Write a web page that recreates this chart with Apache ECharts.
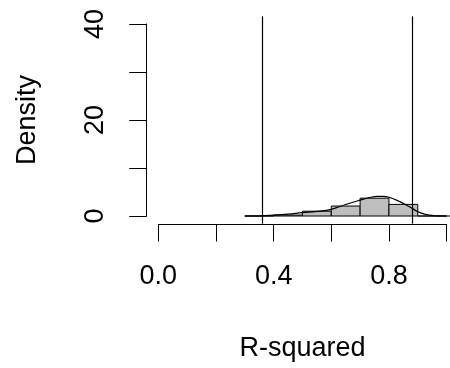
<!DOCTYPE html>
<html>
<head>
<meta charset="utf-8">
<script src="https://cdn.jsdelivr.net/npm/echarts@6/dist/echarts.min.js"></script>
<style>
html,body{margin:0;padding:0;background:#fff;}
#chart{width:450px;height:368px;}
</style>
</head>
<body>
<div id="chart"></div>
<script>
// Histogram bins (R-squared) and densities
const binStart = [0.3, 0.4, 0.5, 0.6, 0.7, 0.8, 0.9];
const binEnd   = [0.4, 0.5, 0.6, 0.7, 0.8, 0.9, 1.0];
const binDensity = [0.0, 0.2, 1.0, 2.08, 3.72, 2.42, 0.0];

// Kernel density curve
const densX = [0.30, 0.35, 0.40, 0.45, 0.50, 0.55, 0.60, 0.65, 0.70, 0.73, 0.76, 0.78, 0.80, 0.83, 0.86, 0.88, 0.90, 0.92, 0.94, 0.96, 0.98, 1.00, 1.05];
const densY = [0.00, 0.02, 0.18, 0.40, 0.70, 0.95, 1.40, 2.40, 3.30, 3.80, 4.10, 4.10, 3.90, 3.20, 2.30, 1.60, 0.90, 0.45, 0.18, 0.06, 0.02, 0.00, 0.00];

// Reference vertical lines
const vLines = [0.361, 0.879];

// Axis ticks
const xTicks = {min: 0, max: 1, interval: 0.2, labeled: [0, 0.4, 0.8]};
const yTicks = {min: 0, max: 40, interval: 10, labeled: [0, 20, 40]};

const FONT = 'Liberation Sans, Arial, Helvetica, sans-serif';

const chart = echarts.init(document.getElementById('chart'), null, {renderer: 'canvas'});

const histData = binStart.map((s, i) => [s, binEnd[i], binDensity[i]]);
const densData = densX.map((x, i) => [x, densY[i]]);

// plot region: x from -0.04 (px 146.7) at 288.4 px per unit, clipped at the right edge of the canvas
const plotLeft = 146.7, pxPerUnit = 288.4, plotXmin = -0.04;
const plotWidth = 450 - plotLeft;
const plotXmax = plotXmin + plotWidth / pxPerUnit;

const option = {
  backgroundColor: '#ffffff',
  animation: false,
  grid: [
    {left: plotLeft, top: 16.3, width: plotWidth, height: 207.4},
    {left: 146.7, top: 24, width: 100, height: 192},
    {left: 158.3, top: 200, width: 288.4, height: 24}
  ],
  xAxis: [
    {gridIndex: 0, type: 'value', min: plotXmin, max: plotXmax, show: false},
    {gridIndex: 1, type: 'value', min: 0, max: 1, show: false},
    {
      gridIndex: 2, type: 'value', min: xTicks.min, max: xTicks.max, interval: xTicks.interval,
      position: 'bottom',
      axisLine: {show: true, lineStyle: {color: '#000', width: 1}},
      axisTick: {show: true, length: 17.5, lineStyle: {color: '#000', width: 1}},
      splitLine: {show: false},
      axisLabel: {
        margin: 39, fontSize: 27, color: '#000', fontFamily: FONT,
        showMinLabel: true, showMaxLabel: true,
        formatter: v => xTicks.labeled.some(t => Math.abs(t - v) < 1e-9) ? v.toFixed(1) : ''
      },
      name: 'R-squared', nameLocation: 'middle', nameGap: 111,
      nameTextStyle: {fontSize: 27, color: '#000', fontFamily: FONT}
    }
  ],
  yAxis: [
    {gridIndex: 0, type: 'value', min: -1.6, max: 41.6, show: false},
    {
      gridIndex: 1, type: 'value', min: yTicks.min, max: yTicks.max, interval: yTicks.interval,
      position: 'left',
      axisLine: {show: true, lineStyle: {color: '#000', width: 1}},
      axisTick: {show: true, length: 17.5, lineStyle: {color: '#000', width: 1}},
      splitLine: {show: false},
      axisLabel: {
        margin: 38, fontSize: 27, color: '#000', fontFamily: FONT, rotate: 90,
        showMinLabel: true, showMaxLabel: true,
        formatter: v => yTicks.labeled.includes(v) ? String(v) : ''
      },
      name: 'Density', nameLocation: 'middle', nameGap: 106, nameRotate: 90,
      nameTextStyle: {fontSize: 27, color: '#000', fontFamily: FONT}
    },
    {gridIndex: 2, type: 'value', min: 0, max: 1, show: false}
  ],
  series: [
    {
      type: 'custom', xAxisIndex: 0, yAxisIndex: 0,
      data: histData,
      renderItem: function (params, api) {
        const p0 = api.coord([api.value(0), 0]);
        const p1 = api.coord([api.value(1), api.value(2)]);
        return {
          type: 'rect',
          shape: {x: p0[0], y: p1[1], width: p1[0] - p0[0], height: p0[1] - p1[1]},
          style: {fill: '#bebebe', stroke: '#000', lineWidth: 1}
        };
      },
      encode: {x: [0, 1], y: 2},
      z: 2
    },
    {
      type: 'line', xAxisIndex: 0, yAxisIndex: 0,
      data: densData, smooth: 0.4, showSymbol: false, symbol: 'none',
      lineStyle: {color: '#000', width: 1.2},
      z: 3,
      markLine: {
        silent: true, symbol: ['none', 'none'],
        label: {show: false},
        lineStyle: {color: '#000', width: 1.2, type: 'solid'},
        data: vLines.map(v => ({xAxis: v}))
      }
    }
  ]
};
chart.setOption(option);
</script>
</body>
</html>
